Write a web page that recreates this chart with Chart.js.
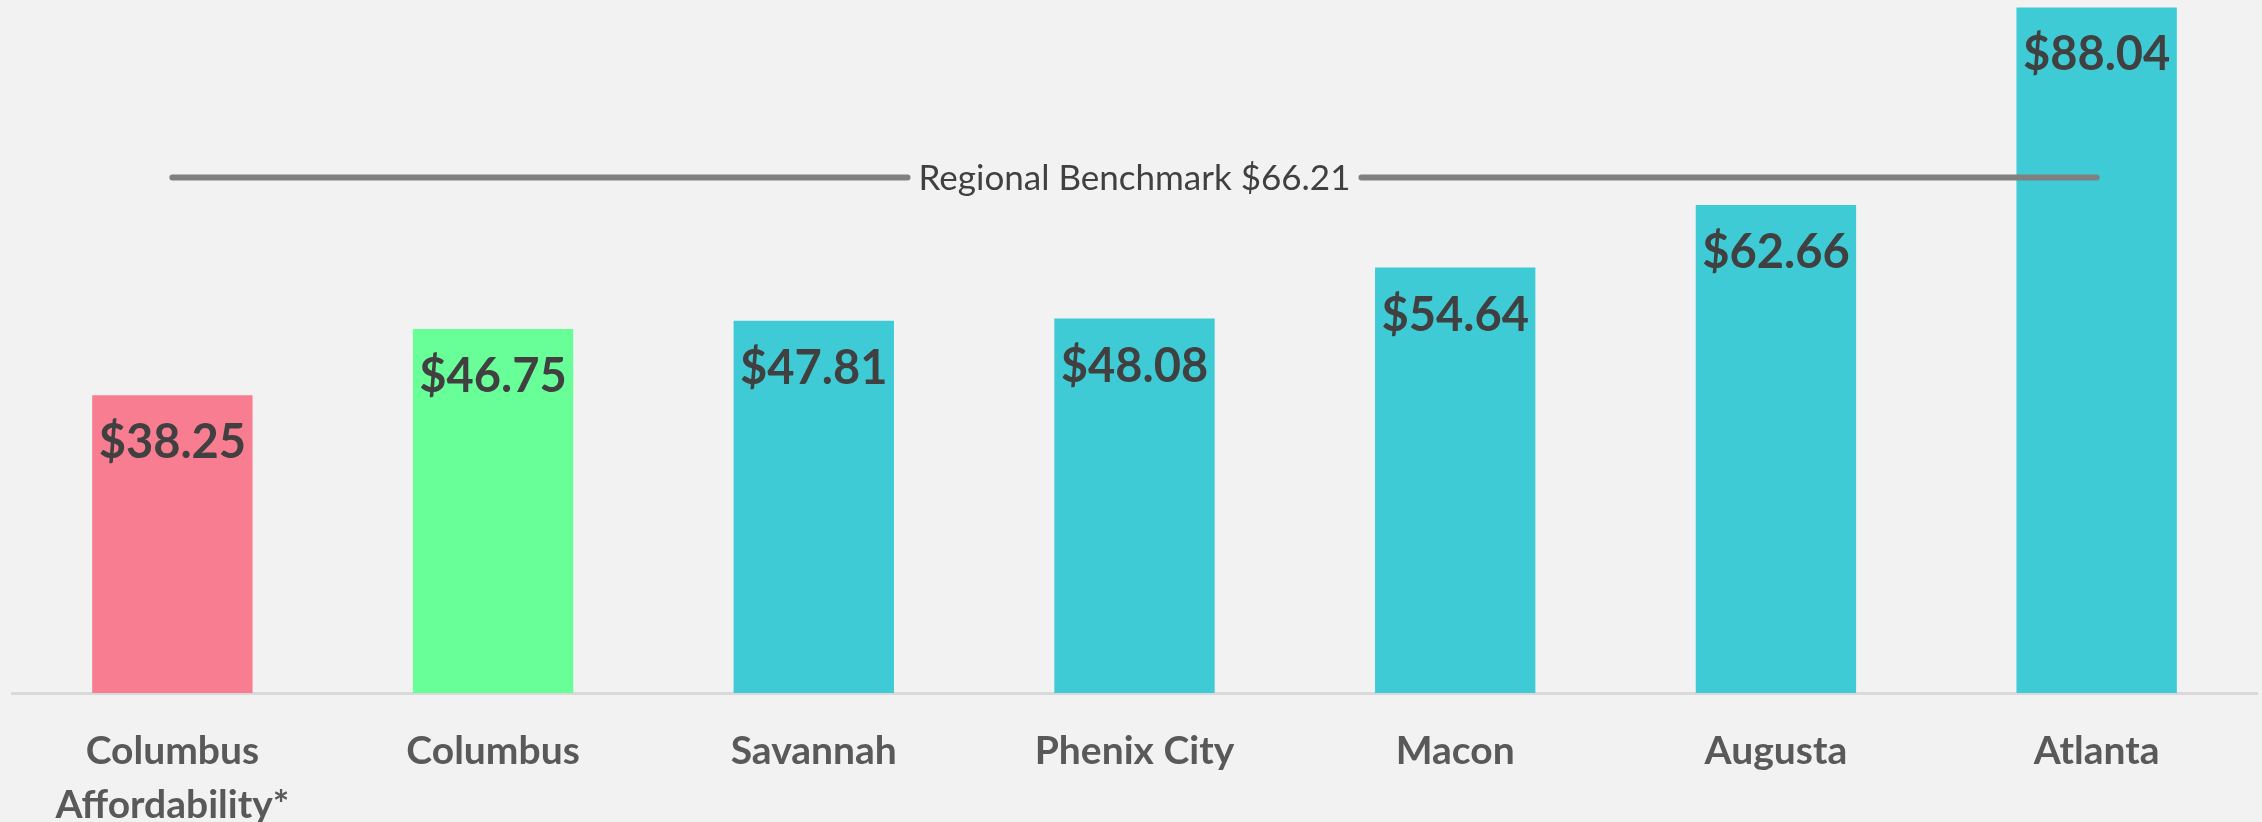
<!doctype html>
<html lang="en">
<head>
    <meta charset="UTF-8">
    <title>Regional Benchmark</title>
    <style>
        html, body {
            margin: 0;
            padding: 0;
            background: #F2F2F2;
        }
        .container {
            width: 2262px;
            height: 822px;
            position: relative;
        }
    </style>
</head>
<body>
    <div class="container">
        <canvas id="myChart"></canvas>
    </div>
    <script src="https://cdn.jsdelivr.net/npm/chart.js@4/dist/chart.umd.min.js"></script>
    <script>
        // data
        var categories = [['Columbus', 'Affordability*'], 'Columbus', 'Savannah', 'Phenix City', 'Macon', 'Augusta', 'Atlanta'];
        var values = [38.25, 46.75, 47.81, 48.08, 54.64, 62.66, 88.04];
        var barColors = ['#F87D91', '#69FF98', '#3ECBD5', '#3ECBD5', '#3ECBD5', '#3ECBD5', '#3ECBD5'];
        var benchmarkLabel = 'Regional Benchmark';
        var benchmarkValue = 66.21;

        function money(v) {
            return '$' + v.toFixed(2);
        }

        // value labels inside the top of each bar + the benchmark line
        var overlay = {
            id: 'overlay',
            afterDatasetsDraw: function (chart) {
                var ctx = chart.ctx;
                var meta = chart.getDatasetMeta(0);
                ctx.save();
                ctx.fillStyle = '#404040';
                ctx.font = 'bold 47px Lato';
                ctx.textAlign = 'center';
                ctx.textBaseline = 'alphabetic';
                meta.data.forEach(function (bar, i) {
                    ctx.fillText(money(values[i]), bar.x, bar.y + 63);
                });

                var x = chart.scales.x;
                var y = chart.scales.y;
                var x0 = x.getPixelForValue(0);
                var x1 = x.getPixelForValue(values.length - 1);
                var ly = y.getPixelForValue(benchmarkValue);
                var mid = (chart.chartArea.left + chart.chartArea.right) / 2;
                var text = benchmarkLabel + ' ' + money(benchmarkValue);
                ctx.font = '35px Lato';
                var tw = ctx.measureText(text).width;
                var gap = 11;

                ctx.strokeStyle = '#808080';
                ctx.lineWidth = 6;
                ctx.lineCap = 'round';
                ctx.beginPath();
                ctx.moveTo(x0, ly);
                ctx.lineTo(mid - tw / 2 - gap, ly);
                ctx.moveTo(mid + tw / 2 + gap, ly);
                ctx.lineTo(x1, ly);
                ctx.stroke();

                ctx.fillStyle = '#404040';
                ctx.fillText(text, mid, ly + 35 * 0.36);
                ctx.restore();
            }
        };

        var ctx = document.getElementById('myChart').getContext('2d');
        var chart = new Chart(ctx, {
            type: 'bar',
            data: {
                labels: categories,
                datasets: [{
                    data: values,
                    backgroundColor: barColors,
                    borderWidth: 0,
                    barPercentage: 0.5,
                    categoryPercentage: 1
                }]
            },
            options: {
                responsive: true,
                maintainAspectRatio: false,
                animation: false,
                layout: {
                    padding: { left: 12, right: 5, top: 0, bottom: 0 }
                },
                plugins: {
                    legend: { display: false },
                    tooltip: { enabled: false }
                },
                scales: {
                    x: {
                        grid: { display: false, drawTicks: false },
                        border: { display: true, color: '#D9D9D9', width: 3 },
                        ticks: {
                            color: '#595959',
                            padding: 31,
                            maxRotation: 0,
                            autoSkip: false,
                            font: { family: 'Lato', size: 39, weight: 'bold', lineHeight: 54 / 39 }
                        },
                        afterFit: function (scale) {
                            scale.height = 129;
                        }
                    },
                    y: {
                        display: false,
                        min: 0,
                        max: 89
                    }
                }
            },
            plugins: [overlay]
        });
    </script>
</body>
</html>
